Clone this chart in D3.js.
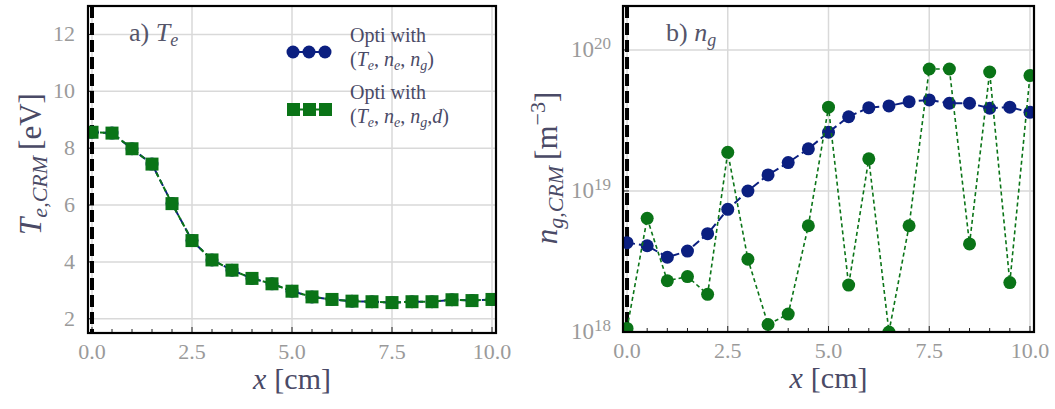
<!DOCTYPE html>
<html><head><meta charset="utf-8">
<script src="https://cdn.jsdelivr.net/npm/d3@7"></script>
<style>body{margin:0;background:#fff}svg{display:block}text{font-family:"Liberation Serif","DejaVu Serif",serif}</style>
</head><body><svg id="c" width="1055" height="409"></svg>
<script>
const xs = [0,0.5,1,1.5,2,2.5,3,3.5,4,4.5,5,5.5,6,6.5,7,7.5,8,8.5,9,9.5,10];
const teBlue = [8.56,8.53,7.98,7.44,6.05,4.75,4.07,3.71,3.42,3.23,2.97,2.77,2.68,2.62,2.60,2.57,2.60,2.60,2.67,2.64,2.68];
const teGreen = [8.56,8.53,7.98,7.44,6.05,4.75,4.07,3.71,3.42,3.23,2.97,2.77,2.68,2.62,2.60,2.57,2.60,2.60,2.67,2.64,2.68];
const ngBlue = [4.3e18,4.09e18,3.39e18,3.75e18,4.98e18,7.41e18,1.0e19,1.30e19,1.59e19,1.99e19,2.61e19,3.36e19,3.90e19,4.01e19,4.30e19,4.42e19,4.19e19,4.19e19,3.86e19,3.93e19,3.61e19];
const ngGreen = [1.06e18,6.4e18,2.31e18,2.47e18,1.85e18,1.88e19,3.28e18,1.13e18,1.34e18,5.67e18,3.93e19,2.15e18,1.69e19,1.0e18,5.67e18,7.33e19,7.33e19,4.21e18,6.98e19,2.24e18,6.58e19];
const xTicks = [0,2.5,5,7.5,10];
const teTicks = [2,4,6,8,10,12];
const ngTicks = [1e18,1e19,1e20];

const BLUE="#0b1f80", GREEN="#0a7417", TICK="#9a9a9a", LAB="#4a4a66", GRID="#d9d9d9";
const svg = d3.select("#c");
svg.append("rect").attr("width",1055).attr("height",409).attr("fill","#fff");

function panel(o){
  const g = svg.append("g");
  const x = d3.scaleLinear().domain([-0.1,10.1]).range([o.l,o.r]);
  const y = o.y;
  g.selectAll(".gx").data(xTicks).join("line").attr("x1",d=>x(d)).attr("x2",d=>x(d))
    .attr("y1",o.t).attr("y2",o.b).attr("stroke",GRID).attr("stroke-width",1.5);
  g.selectAll(".gy").data(o.yTicks).join("line").attr("y1",d=>y(d)).attr("y2",d=>y(d))
    .attr("x1",o.l).attr("x2",o.r).attr("stroke",GRID).attr("stroke-width",1.5);
  const minor = d3.range(0,10.01,0.5);
  g.selectAll(".mx").data(minor).join("line").attr("x1",d=>x(d)).attr("x2",d=>x(d))
    .attr("y1",o.b).attr("y2",d=>o.b-(xTicks.includes(d)?6:4)).attr("stroke","#222").attr("stroke-width",1);
  g.selectAll(".my").data(o.yTicks).join("line").attr("y1",d=>y(d)).attr("y2",d=>y(d))
    .attr("x1",o.l).attr("x2",o.l+6).attr("stroke","#222").attr("stroke-width",1);
  g.selectAll(".xl").data(xTicks).join("text").attr("x",d=>x(d)).attr("y",o.b+26)
    .attr("text-anchor","middle").attr("fill",TICK).attr("font-size",22).text(d=>d.toFixed(1));
  const xl = g.append("text").attr("x",(o.l+o.r)/2).attr("y",o.b+56).attr("text-anchor","middle")
    .attr("fill",LAB).attr("font-size",30);
  xl.append("tspan").attr("font-style","italic").text("x");
  xl.append("tspan").attr("dx",8).text("[cm]");
  const cid = "clip"+o.id;
  svg.append("clipPath").attr("id",cid).append("rect").attr("x",o.l).attr("y",o.t).attr("width",o.r-o.l).attr("height",o.b-o.t);
  const data = g.append("g").attr("clip-path",`url(#${cid})`);
  data.append("line").attr("x1",x(0)).attr("x2",x(0)).attr("y1",o.t).attr("y2",o.b)
    .attr("stroke","#000").attr("stroke-width",4).attr("stroke-dasharray","12,5");
  return {g,x,data};
}

// Left panel
const yL = d3.scaleLinear().domain([1.5,13]).range([333,6]);
const L = panel({id:"L",l:88,r:496,t:6,b:333,y:yL,yTicks:teTicks});
const lineL = d3.line().x((d,i)=>L.x(xs[i])).y(d=>yL(d));
L.data.append("path").attr("d",lineL(teBlue)).attr("fill","none").attr("stroke",BLUE).attr("stroke-width",2).attr("stroke-dasharray","7,4");
L.data.selectAll(".cb").data(teBlue).join("circle").attr("cx",(d,i)=>L.x(xs[i])).attr("cy",d=>yL(d)).attr("r",6.5).attr("fill",BLUE);
L.data.append("path").attr("d",lineL(teGreen)).attr("fill","none").attr("stroke",GREEN).attr("stroke-width",2).attr("stroke-dasharray","5,3");
L.data.selectAll(".sg").data(teGreen).join("rect").attr("x",(d,i)=>L.x(xs[i])-6.5).attr("y",d=>yL(d)-6.5).attr("width",13).attr("height",13).attr("fill",GREEN);
L.g.selectAll(".yl").data(teTicks).join("text").attr("x",75).attr("y",d=>yL(d)+7).attr("text-anchor","end")
  .attr("fill",TICK).attr("font-size",22).text(d=>d);
{
  const t = L.g.append("text").attr("transform","translate(41,164) rotate(-90)").attr("text-anchor","middle").attr("fill",LAB).attr("font-size",31);
  t.append("tspan").attr("font-style","italic").text("T");
  t.append("tspan").attr("font-style","italic").attr("font-size",22).attr("dy",6).text("e,CRM");
  t.append("tspan").attr("dy",-6).attr("dx",6).text("[eV]");
  const a = L.g.append("text").attr("x",129).attr("y",41).attr("fill","#55556a").attr("font-size",26);
  a.append("tspan").text("a) ");
  a.append("tspan").attr("font-style","italic").text("T");
  a.append("tspan").attr("font-style","italic").attr("font-size",18).attr("dy",5).text("e");
}
// legend
{
  const lg = L.g.append("g");
  lg.append("line").attr("x1",293).attr("x2",325).attr("y1",52).attr("y2",52).attr("stroke",BLUE).attr("stroke-width",2);
  lg.append("line").attr("x1",293).attr("x2",325).attr("y1",109.5).attr("y2",109.5).attr("stroke",GREEN).attr("stroke-width",2);
  [0,1,2].forEach(k=>{
    lg.append("circle").attr("cx",293+k*16).attr("cy",52).attr("r",6.5).attr("fill",BLUE);
    lg.append("rect").attr("x",287+k*16).attr("y",103).attr("width",13).attr("height",13).attr("fill",GREEN);
  });
  function mline(y, withD){
    const t = lg.append("text").attr("x",350).attr("y",y).attr("fill",LAB).attr("font-size",20);
    t.append("tspan").text("(");
    t.append("tspan").attr("font-style","italic").text("T");
    t.append("tspan").attr("font-style","italic").attr("font-size",14).attr("dy",4).text("e");
    t.append("tspan").attr("dy",-4).text(", ");
    t.append("tspan").attr("font-style","italic").text("n");
    t.append("tspan").attr("font-style","italic").attr("font-size",14).attr("dy",4).text("e");
    t.append("tspan").attr("dy",-4).text(", ");
    t.append("tspan").attr("font-style","italic").text("n");
    t.append("tspan").attr("font-style","italic").attr("font-size",14).attr("dy",4).text("g");
    if(withD){ t.append("tspan").attr("dy",-4).text(","); t.append("tspan").attr("font-style","italic").text("d"); t.append("tspan").text(")"); }
    else t.append("tspan").attr("dy",-4).text(")");
  }
  lg.append("text").attr("x",350).attr("y",42).attr("fill",LAB).attr("font-size",20).text("Opti with");
  mline(66,false);
  lg.append("text").attr("x",350).attr("y",99).attr("fill",LAB).attr("font-size",20).text("Opti with");
  mline(123,true);
}

// Right panel
const yR = d3.scaleLog().domain([1e18,2.05e20]).range([332,6]);
const R = panel({id:"R",l:623,r:1034,t:6,b:332,y:yR,yTicks:ngTicks});
const lineR = d3.line().x((d,i)=>R.x(xs[i])).y(d=>yR(d));
R.data.append("path").attr("d",lineR(ngBlue)).attr("fill","none").attr("stroke",BLUE).attr("stroke-width",2).attr("stroke-dasharray","8,4");
R.data.selectAll(".cb").data(ngBlue).join("circle").attr("cx",(d,i)=>R.x(xs[i])).attr("cy",d=>yR(d)).attr("r",6.5).attr("fill",BLUE);
R.data.append("path").attr("d",lineR(ngGreen)).attr("fill","none").attr("stroke",GREEN).attr("stroke-width",1.6).attr("stroke-dasharray","4,3");
R.data.selectAll(".cg").data(ngGreen).join("circle").attr("cx",(d,i)=>R.x(xs[i])).attr("cy",d=>yR(d)).attr("r",6.5).attr("fill",GREEN);
R.g.selectAll(".yl").data(ngTicks).join("text").attr("x",611).attr("y",d=>yR(d)+7).attr("text-anchor","end")
  .attr("fill",TICK).attr("font-size",23)
  .each(function(d){ const t=d3.select(this); t.append("tspan").text("10"); t.append("tspan").attr("font-size",17).attr("dy",-8).text(Math.round(Math.log10(d))); });
{
  const t = R.g.append("text").attr("transform","translate(557,168) rotate(-90)").attr("text-anchor","middle").attr("fill",LAB).attr("font-size",31);
  t.append("tspan").attr("font-style","italic").text("n");
  t.append("tspan").attr("font-style","italic").attr("font-size",22).attr("dy",6).text("g,CRM");
  t.append("tspan").attr("dy",-6).attr("dx",6).text("[m");
  t.append("tspan").attr("font-size",22).attr("dy",-12).text("−3");
  t.append("tspan").attr("dy",12).text("]");
  const a = R.g.append("text").attr("x",666).attr("y",41).attr("fill","#55556a").attr("font-size",26);
  a.append("tspan").text("b) ");
  a.append("tspan").attr("font-style","italic").text("n");
  a.append("tspan").attr("font-style","italic").attr("font-size",18).attr("dy",5).text("g");
}
[[88,6,408,327],[623,6,411,326]].forEach(f=>svg.append("rect").attr("x",f[0]).attr("y",f[1]).attr("width",f[2]).attr("height",f[3]).attr("fill","none").attr("stroke","#000").attr("stroke-width",2.2));
</script></body></html>
